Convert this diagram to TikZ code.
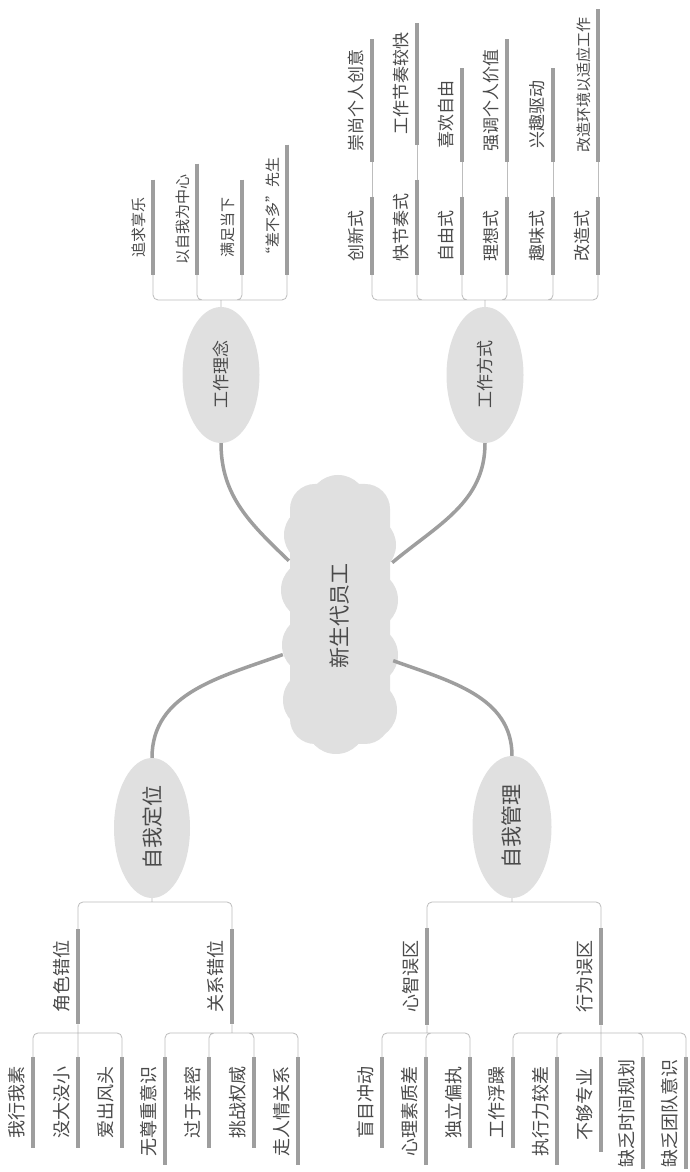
\documentclass[tikz,border=0pt]{standalone}
\usepackage{graphicx}
\usepackage{fontspec}
\newfontfamily\cjk{Noto Sans CJK SC}
\usetikzlibrary{shapes.geometric}

\definecolor{inktext}{HTML}{4A4A4A}
\definecolor{bargray}{HTML}{9E9E9E}
\definecolor{linkgray}{HTML}{BDBDBD}
\definecolor{blobgray}{HTML}{E0E0E0}
\newcommand{\vtext}[1]{\rotatebox{90}{#1}}

\begin{document}
\begin{tikzpicture}[x=1pt,y=1pt,
    topic/.style={ellipse,fill=blobgray,inner sep=0pt,text=inktext,minimum width=77pt,minimum height=136pt},
    leaf/.style={inner xsep=7.5pt,inner ysep=0pt,text=inktext},
    upleaf/.style={leaf,anchor=south east},
    downleaf/.style={leaf,anchor=north east},
    fsmall/.style={font=\cjk\fontsize{15}{18}\selectfont},
    fmid/.style={font=\cjk\fontsize{17}{20}\selectfont},
    fbig/.style={font=\cjk\fontsize{18}{21}\selectfont},
    fhead/.style={font=\cjk\fontsize{21}{24}\selectfont},
    leafbar/.style={draw=bargray,line width=4pt},
    link/.style={draw=linkgray,line width=0.8pt,rounded corners=5pt},
    trunk/.style={draw=bargray,line width=3.5pt}]
  \useasboundingbox (0,0) rectangle (689,1172);
  \fill[white] (0,0) rectangle (689,1172);
  \clip (0,0) rectangle (689,1172);

  % the cloud behind the centre
  \fill[blobgray,rounded corners=25pt] (290,428) rectangle (390,688);
  \foreach \cx/\cy/\r in {313/472/30,312/527/30,311/582/30,313/637/29,
      367/462/30,368/517/30,368/572/30,367/627/29,
      338/668/29,320/655/26,360/655/26,336/448/30}
    \fill[blobgray] (\cx,\cy) circle (\r);

  % centre and the four topics
  \node[minimum width=114pt,minimum height=270pt,inner sep=0pt,text=inktext,fhead] (core) at (340,556) {\vtext{新生代员工}};
  \node[topic,fmid] (idea) at (221,797) {\vtext{工作理念}};
  \node[topic,fmid] (mode) at (485,797) {\vtext{工作方式}};
  \node[topic,fhead,minimum width=76pt,minimum height=140pt] (self) at (152,344) {\vtext{自我定位}};
  \node[topic,fhead,minimum width=79pt,minimum height=142pt] (manage) at (512,345) {\vtext{自我管理}};

  \draw[trunk] ([xshift=6pt]core.136) to[out=136,in=-90] (idea.south);
  \draw[trunk] ([xshift=-5pt]core.43) to[out=40,in=-90] (mode.south);
  \draw[trunk] (core.214) to[out=200,in=90] (self.north);
  \draw[trunk] ([xshift=-4pt]core.-38) to[out=-20,in=90] (manage.north);

  % 工作理念
  \coordinate (idj) at (221,872);
  \node[upleaf,fsmall,minimum height=95pt] (id1) at (153,897) {\vtext{追求享乐}};
  \node[upleaf,fsmall,minimum height=111pt] (id2) at (197,897) {\vtext{以自我为中心}};
  \node[upleaf,fsmall,minimum height=95pt] (id3) at (242,897) {\vtext{满足当下}};
  \node[upleaf,fsmall,minimum height=130pt] (id4) at (287,897) {\vtext{“差不多”先生}};

  % 工作方式
  \coordinate (moj) at (485,872);
  \node[upleaf,fmid,minimum height=78pt] (mo1) at (372,897) {\vtext{创新式}};
  \node[upleaf,fmid,minimum height=95pt] (mo2) at (417,897) {\vtext{快节奏式}};
  \node[upleaf,fmid,minimum height=78pt] (mo3) at (462,897) {\vtext{自由式}};
  \node[upleaf,fmid,minimum height=78pt] (mo4) at (507,897) {\vtext{理想式}};
  \node[upleaf,fmid,minimum height=78pt] (mo5) at (553,897) {\vtext{趣味式}};
  \node[upleaf,fmid,minimum height=78pt] (mo6) at (598,897) {\vtext{改造式}};
  \node[upleaf,fmid,minimum height=122pt] (mg1) at ([yshift=35pt]mo1.north east) {\vtext{崇尚个人创意}};
  \node[upleaf,fmid,minimum height=121pt] (mg2) at ([yshift=35pt]mo2.north east) {\vtext{工作节奏较快}};
  \node[upleaf,fmid,minimum height=93pt] (mg3) at ([yshift=35pt]mo3.north east) {\vtext{喜欢自由}};
  \node[upleaf,fmid,minimum height=122pt] (mg4) at ([yshift=35pt]mo4.north east) {\vtext{强调个人价值}};
  \node[upleaf,fmid,minimum height=93pt] (mg5) at ([yshift=35pt]mo5.north east) {\vtext{兴趣驱动}};
  \node[upleaf,fsmall,minimum height=152pt] (mg6) at ([yshift=35pt]mo6.north east) {\vtext{改造环境以适应工作}};

  % 自我定位
  \coordinate (sdj) at (152,270);
  \node[downleaf,fbig,minimum height=95pt] (sd1) at (78,243) {\vtext{角色错位}};
  \node[downleaf,fbig,minimum height=95pt] (sd2) at (232,243) {\vtext{关系错位}};
  \coordinate (sd1j) at (78,139);
  \coordinate (sd2j) at (232,139);
  \node[downleaf,fbig,minimum height=91pt] (sa1) at (33,115) {\vtext{我行我素}};
  \node[downleaf,fbig,minimum height=91pt] (sa2) at (78,115) {\vtext{没大没小}};
  \node[downleaf,fbig,minimum height=91pt] (sa3) at (122,115) {\vtext{爱出风头}};
  \node[downleaf,fbig,minimum height=108pt] (sb1) at (165,115) {\vtext{无尊重意识}};
  \node[downleaf,fbig,minimum height=91pt] (sb2) at (209,115) {\vtext{过于亲密}};
  \node[downleaf,fbig,minimum height=91pt] (sb3) at (254,115) {\vtext{挑战权威}};
  \node[downleaf,fbig,minimum height=108pt] (sb4) at (298,115) {\vtext{走人情关系}};

  % 自我管理
  \coordinate (maj) at (512,270);
  \node[downleaf,fbig,minimum height=97pt] (ma1) at (427,244) {\vtext{心智误区}};
  \node[downleaf,fbig,minimum height=97pt] (ma2) at (601,244) {\vtext{行为误区}};
  \coordinate (ma1j) at (427,139);
  \coordinate (ma2j) at (601,139);
  \node[downleaf,fbig,minimum height=91pt] (mp1) at (382,115) {\vtext{盲目冲动}};
  \node[downleaf,fbig,minimum height=108pt] (mp2) at (426,115) {\vtext{心理素质差}};
  \node[downleaf,fbig,minimum height=91pt] (mp3) at (470,115) {\vtext{独立偏执}};
  \node[downleaf,fbig,minimum height=91pt] (mq1) at (513,115) {\vtext{工作浮躁}};
  \node[downleaf,fbig,minimum height=108pt] (mq2) at (557,115) {\vtext{执行力较差}};
  \node[downleaf,fbig,minimum height=95pt] (mq3) at (601,115) {\vtext{不够专业}};
  \node[downleaf,fbig,minimum height=112pt] (mq4) at (643,115) {\vtext{缺乏时间规划}};
  \node[downleaf,fbig,minimum height=112pt] (mq5) at (686,115) {\vtext{缺乏团队意识}};

  % thin links
  \draw[link] (idea.north) -- (idj) (idj) -| (id1.south east) (idj) -| (id2.south east)
    (idj) -| (id3.south east) (idj) -| (id4.south east);
  \draw[link] (mode.north) -- (moj) (moj) -| (mo1.south east) (moj) -| (mo2.south east)
    (moj) -| (mo3.south east) (moj) -| (mo4.south east) (moj) -| (mo5.south east) (moj) -| (mo6.south east);
  \draw[link] (mo1.north east) -- (mg1.south east) (mo2.north east) -- (mg2.south east)
    (mo3.north east) -- (mg3.south east) (mo4.north east) -- (mg4.south east)
    (mo5.north east) -- (mg5.south east) (mo6.north east) -- (mg6.south east);
  \draw[link] (self.south) -- (sdj) (sdj) -| (sd1.north east) (sdj) -| (sd2.north east);
  \draw[link] (sd1.south east) -- (sd1j) (sd1j) -| (sa1.north east) (sd1j) -| (sa2.north east) (sd1j) -| (sa3.north east);
  \draw[link] (sd2.south east) -- (sd2j) (sd2j) -| (sb1.north east) (sd2j) -| (sb2.north east)
    (sd2j) -| (sb3.north east) (sd2j) -| (sb4.north east);
  \draw[link] (manage.south) -- (maj) (maj) -| (ma1.north east) (maj) -| (ma2.north east);
  \draw[link] (ma1.south east) -- (ma1j) (ma1j) -| (mp1.north east) (ma1j) -| (mp2.north east) (ma1j) -| (mp3.north east);
  \draw[link] (ma2.south east) -- (ma2j) (ma2j) -| (mq1.north east) (ma2j) -| (mq2.north east)
    (ma2j) -| (mq3.north east) (ma2j) -| (mq4.north east) (ma2j) -| (mq5.north east);

  % bars under the labels
  \draw[leafbar] (id1.north east) -- (id1.south east) (id2.north east) -- (id2.south east)
    (id3.north east) -- (id3.south east) (id4.north east) -- (id4.south east);
  \draw[leafbar] (mo1.north east) -- (mo1.south east) (mo2.north east) -- (mo2.south east)
    (mo3.north east) -- (mo3.south east) (mo4.north east) -- (mo4.south east)
    (mo5.north east) -- (mo5.south east) (mo6.north east) -- (mo6.south east);
  \draw[leafbar] (mg1.north east) -- (mg1.south east) (mg2.north east) -- (mg2.south east)
    (mg3.north east) -- (mg3.south east) (mg4.north east) -- (mg4.south east)
    (mg5.north east) -- (mg5.south east) (mg6.north east) -- (mg6.south east);
  \draw[leafbar] (sd1.north east) -- (sd1.south east) (sd2.north east) -- (sd2.south east)
    (sa1.north east) -- (sa1.south east) (sa2.north east) -- (sa2.south east) (sa3.north east) -- (sa3.south east)
    (sb1.north east) -- (sb1.south east) (sb2.north east) -- (sb2.south east)
    (sb3.north east) -- (sb3.south east) (sb4.north east) -- (sb4.south east);
  \draw[leafbar] (ma1.north east) -- (ma1.south east) (ma2.north east) -- (ma2.south east)
    (mp1.north east) -- (mp1.south east) (mp2.north east) -- (mp2.south east) (mp3.north east) -- (mp3.south east)
    (mq1.north east) -- (mq1.south east) (mq2.north east) -- (mq2.south east) (mq3.north east) -- (mq3.south east)
    (mq4.north east) -- (mq4.south east) (mq5.north east) -- (mq5.south east);
\end{tikzpicture}
\end{document}
